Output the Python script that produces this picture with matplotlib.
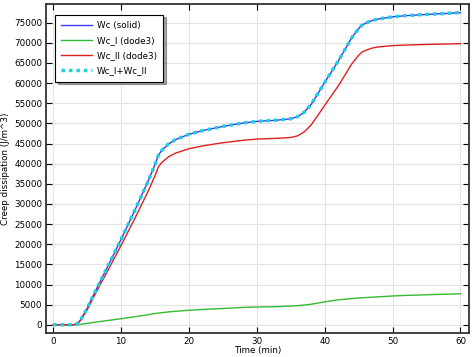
import numpy as np
import matplotlib.pyplot as plt

# Time (min) and creep dissipation values
t = [0, 1, 2, 3, 3.5, 4, 5, 6, 8, 10, 12, 14, 15, 15.5, 16, 17, 18, 20, 22, 25, 28, 30,
     33, 35, 36, 37, 38, 39, 40, 42, 44, 45, 45.5, 46, 47, 48, 50, 52, 55, 58, 60]
wc_i = [0, 0, 0, 0, 0, 100, 350, 600, 1050, 1500, 2000, 2500, 2800, 2900, 3000, 3200,
        3350, 3600, 3800, 4050, 4300, 4400, 4500, 4650, 4750, 4900, 5100, 5400, 5700,
        6200, 6500, 6650, 6700, 6750, 6850, 6950, 7150, 7300, 7450, 7600, 7700]
wc_ii = [0, 0, 0, 0, 200, 1000, 3700, 7000, 13300, 19700, 26300, 33200, 37000, 39200,
         40300, 41700, 42600, 43700, 44400, 45200, 45800, 46100, 46300, 46500, 46900,
         47900, 49600, 52000, 54500, 59300, 64800, 66900, 67700, 68100, 68700, 69000,
         69300, 69450, 69600, 69700, 69800]

plt.rcParams['font.family'] = 'DejaVu Sans'
plt.rcParams['font.size'] = 6

fig = plt.figure(figsize=(4.74, 3.57), dpi=100)
ax = fig.add_axes([0.0964, 0.067, 0.8937, 0.9218])

wc = np.array(wc_i) + np.array(wc_ii)
ax.plot(t, wc, color='#3a3af0', lw=1.0, label='Wc (solid)')
ax.plot(t, wc_i, color='#33bb33', lw=1.0, label='Wc_I (dode3)')
ax.plot(t, wc_ii, color='#e02020', lw=1.0, label='Wc_II (dode3)')
ax.plot(t, wc, color='#1fd0e0', lw=2.5, linestyle=(0, (1, 1.15)), label='Wc_I+Wc_II')

ax.set_xlim(-1.1, 61.3)
ax.set_ylim(-2060, 79640)
ax.set_xticks(range(0, 61, 10))
ax.set_yticks(range(0, 75001, 5000))
ax.grid(True, color='#e4e4e4', lw=0.8)
ax.set_axisbelow(True)
ax.tick_params(direction='in', top=True, right=True, length=4, width=0.8,
               labelsize=6.3, pad=2.5)
for s in ax.spines.values():
    s.set_linewidth(1.3)
    s.set_color('#333333')

ax.set_xlabel('Time (min)', fontsize=6.3, labelpad=0)
ax.set_ylabel('Creep dissipation (J/m^3)', fontsize=6.3, labelpad=3)

leg = ax.legend(loc='upper left', bbox_to_anchor=(0.022, 0.968), borderaxespad=0,
                fontsize=6.3, fancybox=False, shadow=True, framealpha=1,
                edgecolor='black', handlelength=3.5, handletextpad=0.6,
                labelspacing=0.72, borderpad=0.7)
leg.get_frame().set_linewidth(0.8)

fig.savefig('out.png', dpi=100)
